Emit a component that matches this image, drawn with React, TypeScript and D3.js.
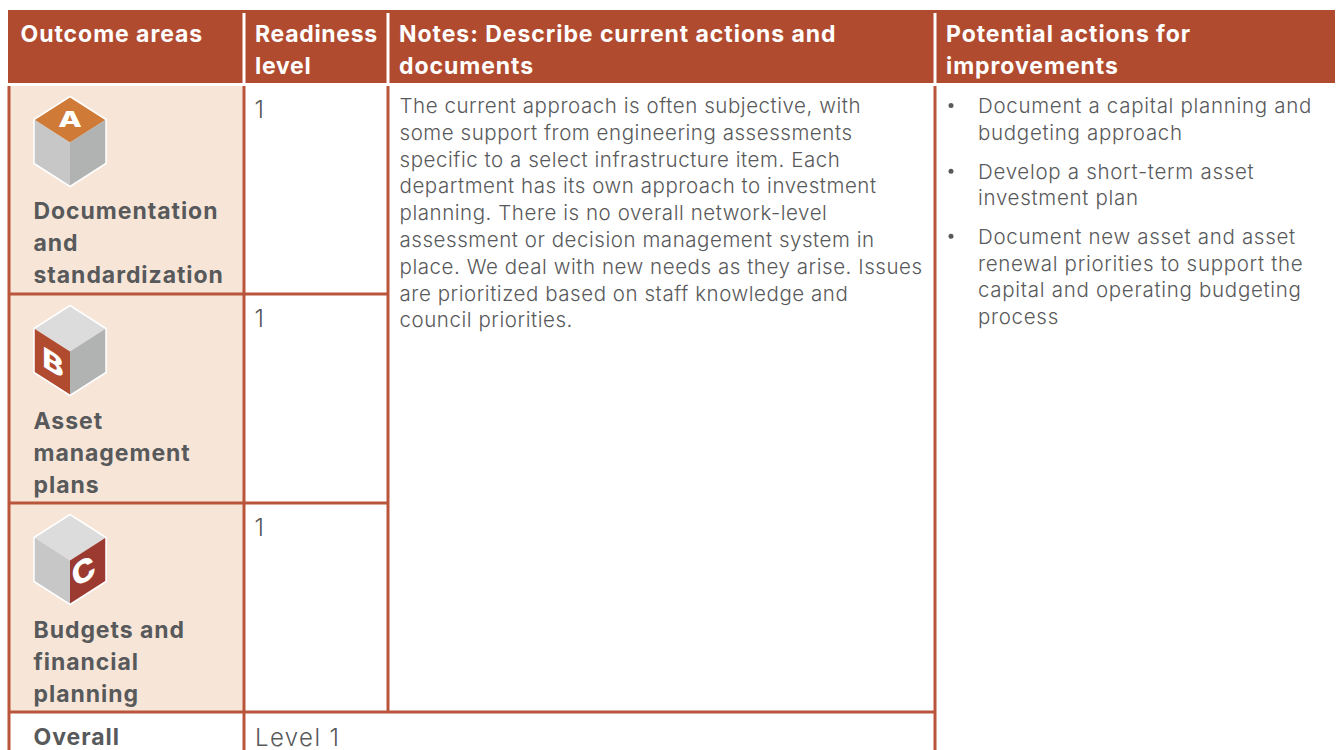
import * as d3 from "d3";
import React from "react";

const width = 1336;
const height = 750;

const headers = [
  ["Outcome areas"],
  ["Readiness", "level"],
  ["Notes: Describe current actions and", "documents"],
  ["Potential actions for", "improvements"],
];
const outcomeLetters = ["A", "B", "C"];
const outcomeLabels = [
  ["Documentation", "and", "standardization"],
  ["Asset", "management", "plans"],
  ["Budgets and", "financial", "planning"],
];
const readiness = ["1", "1", "1"];
const overallLabel = "Overall";
const overallValue = "Level 1";
const notes = [
  "The current approach is often subjective, with",
  "some support from engineering assessments",
  "specific to a select infrastructure item. Each",
  "department has its own approach to investment",
  "planning. There is no overall network-level",
  "assessment or decision management system in",
  "place. We deal with new needs as they arise. Issues",
  "are prioritized based on staff knowledge and",
  "council priorities.",
];
const actions = [
  ["Document a capital planning and", "budgeting approach"],
  ["Develop a short-term asset", "investment plan"],
  [
    "Document new asset and asset",
    "renewal priorities to support the",
    "capital and operating budgeting",
    "process",
  ],
];

const RUST = "#b14b30";
const LINE = "#b9553a";
const BEIGE = "#f7e6d8";
const INK = "#58595b";
const FONT = "Inter, sans-serif";

// column edges and row edges of the table
const colX = [9, 244, 388, 935, 1336];
const rowY = d3.scaleLinear().domain([0, 3]).range([85, 712]);
const headTop = 10;
const headBottom = 83;
const bodyLine = d3.scaleLinear().domain([0, 1]).range([113, 139.8]);

const cubeW = 36;
const cubeH = 23;
const cubeSide = 44;
const hex = d3.line();

function Cube({ x, y, active }: { x: number; y: number; active: number }) {
  const c: [number, number] = [x, y + cubeH * 2];
  const top: [number, number][] = [[x, y], [x + cubeW, y + cubeH], c, [x - cubeW, y + cubeH]];
  const left: [number, number][] = [[x - cubeW, y + cubeH], c, [x, c[1] + cubeSide], [x - cubeW, y + cubeH + cubeSide]];
  const right: [number, number][] = [c, [x + cubeW, y + cubeH], [x + cubeW, y + cubeH + cubeSide], [x, c[1] + cubeSide]];
  const outline: [number, number][] = [
    [x, y], [x + cubeW, y + cubeH], [x + cubeW, y + cubeH + cubeSide],
    [x, c[1] + cubeSide], [x - cubeW, y + cubeH + cubeSide], [x - cubeW, y + cubeH],
  ];
  const letterStyle = { fontFamily: FONT, fontWeight: 800, fill: "#fff", textAnchor: "middle" as const };
  return (
    <g>
      <path d={hex(top)! + "Z"} fill={active === 0 ? "#cf7a37" : "#dcdcdc"} />
      <path d={hex(left)! + "Z"} fill={active === 1 ? "#b14b30" : "#c6c7c6"} />
      <path d={hex(right)! + "Z"} fill={active === 2 ? "#9c3a31" : "#b1b3b2"} />
      <path d={hex(outline)! + "Z"} fill="none" stroke="#fff" strokeWidth={1.5} />
      {active === 0 && (
        <text transform={`matrix(1.4 0 0 1 ${x} ${y + 30})`} fontSize={22} style={letterStyle}>A</text>
      )}
      {active === 1 && (
        <text transform={`matrix(1.15 0.7 0 1 ${x - 17} ${y + 67})`} fontSize={28} style={letterStyle}>B</text>
      )}
      {active === 2 && (
        <text transform={`matrix(1.05 -0.6 0.25 1 ${x + 16} ${y + 67})`} fontSize={29} style={letterStyle}>C</text>
      )}
    </g>
  );
}

export default function App() {
  const headProps = { fontFamily: FONT, fontSize: 23, fontWeight: 700, letterSpacing: 0.95 };
  const bodyProps = { fontFamily: FONT, fontSize: 20.5, fontWeight: 300, letterSpacing: 0.55, fill: INK };
  const levelProps = { fontFamily: FONT, fontSize: 24, fontWeight: 300, fill: INK };
  return (
    <svg
      width={width}
      height={height}
      viewBox={`0 0 ${width} ${height}`}
      style={{ position: "absolute", left: 0, top: 0, background: "#fff" }}
    >
      <rect x={colX[0] - 1} y={headTop} width={width - colX[0]} height={headBottom - headTop} fill={RUST} />
      {outcomeLetters.map((_, i) => (
        <rect key={i} x={colX[0]} y={rowY(i) + 1} width={colX[1] - colX[0]} height={rowY(i + 1) - rowY(i)} fill={BEIGE} />
      ))}

      {/* header */}
      {colX.slice(1, 4).map((x) => (
        <line key={x} x1={x} x2={x} y1={13} y2={83} stroke="#fff" strokeWidth={3} />
      ))}
      {headers.map((lines, i) =>
        lines.map((t, j) => (
          <text key={t} x={colX[i] + (i === 0 ? 11.5 : 11)} y={42 + j * 32} fill="#fff" {...headProps} letterSpacing={i === 1 ? 0.7 : 0.95}>
            {t}
          </text>
        ))
      )}

      {/* grid lines */}
      {[colX[0], colX[1], colX[2]].map((x, i) => (
        <line key={x} x1={x} x2={x} y1={86} y2={i === 2 ? 712 : height} stroke={LINE} strokeWidth={3} />
      ))}
      <line x1={colX[3]} x2={colX[3]} y1={86} y2={height} stroke={LINE} strokeWidth={3} />
      {[1, 2].map((i) => (
        <line key={i} x1={colX[0]} x2={colX[2]} y1={rowY(i)} y2={rowY(i)} stroke={LINE} strokeWidth={3} />
      ))}
      <line x1={colX[0]} x2={colX[3]} y1={rowY(3)} y2={rowY(3)} stroke={LINE} strokeWidth={3} />

      {/* outcome rows */}
      {outcomeLetters.map((_, i) => {
        const top = rowY(i);
        return (
          <g key={i}>
            <Cube x={70} y={top + 11.5} active={i} />
            {outcomeLabels[i].map((t, j) => (
              <text key={t} x={33.5} y={top + (i === 0 ? 134 : 135) + j * 32} fill={INK} {...headProps}>
                {t}
              </text>
            ))}
            <text x={254.5} y={top + 33} {...levelProps}>
              {readiness[i]}
            </text>
          </g>
        );
      })}
      <text x={33.5} y={745} fill={INK} {...headProps}>{overallLabel}</text>
      <text x={255} y={745.5} {...levelProps} letterSpacing={1.4}>{overallValue}</text>

      {/* notes */}
      {notes.map((t, i) => (
        <text key={i} x={399.5} y={bodyLine(i)} {...bodyProps}>
          {t}
        </text>
      ))}

      {/* actions */}
      {actions.map((lines, i) => {
        const start = [0, 2.45, 4.88][i];
        return (
          <g key={i}>
            <circle cx={951} cy={bodyLine(start) - 7.5} r={2.5} fill={INK} />
            {lines.map((t, j) => (
              <text key={t} x={978} y={bodyLine(start + j)} {...bodyProps} letterSpacing={0.7}>
                {t}
              </text>
            ))}
          </g>
        );
      })}
    </svg>
  );
}
